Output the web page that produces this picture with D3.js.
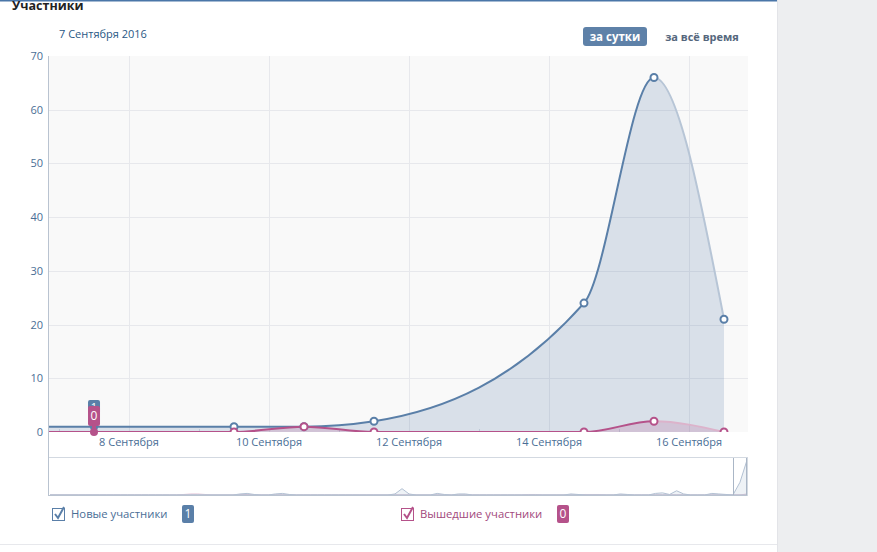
<!DOCTYPE html>
<html><head><meta charset="utf-8">
<script src="https://cdn.jsdelivr.net/npm/d3@7/dist/d3.min.js"></script>
<style>
html,body{margin:0;padding:0;background:#fff;}
svg{display:block;font-family:"Open Sans",Roboto,sans-serif;}
</style></head><body>
<svg id="c" width="877" height="552"></svg>
<script>
// ---- data ----
const pointDates = ["2016-09-06T12:00","2016-09-07T12:00","2016-09-09T12:00","2016-09-10T12:00","2016-09-11T12:00","2016-09-14T12:00","2016-09-15T12:00","2016-09-16T12:00"];
const newMembers = [1, 1, 1, 1, 2, 24, 66, 21];
const leftMembers = [0, 0, 0, 1, 0, 0, 2, 0];
const yTicks = [0, 10, 20, 30, 40, 50, 60, 70];
const xTickDays = [8, 10, 12, 14, 16];
const xMinorDays = [7, 9, 11, 13, 15];
const monthName = "Сентября";
const seriesNames = ["Новые участники", "Вышедшие участники"];
const hoverValues = [1, 0];
// navigator (long history), small values
const navNew = [0,0,0,0,0,0,0,0,0,0, 0,0,0,0,0,0,0,0,0,0, 0,0,0,0,0,0,0,2,3,1, 0,0,2,3,1,0,0,0,0,0, 0,0,0,0,0,0,0,0,0,2, 12,2,0,0,0,3,1,0,2,2, 0,0,0,0,0,0,0,0,0,0, 0,0,0,0,2,1,0,0,0,0, 0,2,1,0,0,0,3,4,1,8, 2,0,0,0,3,2,1,0,24,66];
const navLeft = [0,0,0,0,0,0,0,0,0,0, 0,0,0,0,0,0,0,0,0,1, 2,2,1,0,0,0,0,1,1,0, 0,0,0,0,0,0,0,0,0,0, 0,0,0,0,0,0,0,0,0,0, 0,0,0,0,0,0,0,0,0,0, 0,0,0,0,0,0,0,0,1,1, 0,0,0,0,0,0,1,1,1,0, 0,0,0,0,0,0,0,0,0,0, 0,0,0,0,0,0,0,0,0,2];

const parse = d3.timeParse("%Y-%m-%dT%H:%M");
const dates = pointDates.map(parse);

const svg = d3.select("#c");
const L = 49, R = 748, T = 56, B = 432;
const NAVT = 457, NAVB = 496;
const blue = "#5a7fa8", pink = "#b5528a";
const textBlue = "#4a6e96";
const FS = 11;

// frame
svg.append("rect").attr("x",777).attr("y",0).attr("width",100).attr("height",552).attr("fill","#edeef0");
svg.append("line").attr("x1",777.5).attr("x2",777.5).attr("y1",0).attr("y2",552).attr("stroke","#e3e4e8");
svg.append("rect").attr("x",0).attr("y",0).attr("width",777).attr("height",1.5).attr("fill","#4a76a8");
svg.append("line").attr("x1",0).attr("x2",777).attr("y1",544.5).attr("y2",544.5).attr("stroke","#e7e8ec");

svg.append("text").attr("x",12).attr("y",10).attr("font-size",12.5).attr("font-weight",700).attr("fill","#222").text("Участники");
svg.append("text").attr("x",59).attr("y",38).attr("font-size",FS).attr("fill","#2a5885").text("7 " + monthName + " 2016");

// buttons
svg.append("rect").attr("x",583).attr("y",27).attr("width",64).attr("height",19).attr("rx",3).attr("fill","#5e81a8");
svg.append("text").attr("x",615).attr("y",40.5).attr("text-anchor","middle").attr("font-size",11.5).attr("font-weight",700).attr("fill","#fff").text("за сутки");
svg.append("text").attr("x",702).attr("y",40.5).attr("text-anchor","middle").attr("font-size",11).attr("font-weight",700).attr("fill","#55677d").text("за всё время");

// scales
const x = d3.scaleTime().domain([parse("2016-09-06T20:34"), parse("2016-09-16T20:14")]).range([L, R]);
const y = d3.scaleLinear().domain([0, 70]).range([B, T]);
const dayDate = d => new Date(2016, 8, d);

// plot bg
svg.append("rect").attr("x",L).attr("y",T).attr("width",R-L).attr("height",B-T).attr("fill","#f9f9f9");
// grid
svg.append("g").selectAll("line").data(yTicks.filter(v=>v>0 && v<70)).join("line")
  .attr("x1",L).attr("x2",R).attr("y1",d=>Math.round(y(d))+0.5).attr("y2",d=>Math.round(y(d))+0.5).attr("stroke","#e7e8ec");
svg.append("g").selectAll("line").data(xTickDays).join("line")
  .attr("x1",d=>Math.round(x(dayDate(d)))+0.5).attr("x2",d=>Math.round(x(dayDate(d)))+0.5).attr("y1",T).attr("y2",B).attr("stroke","#e7e8ec");
svg.append("g").selectAll("line").data(xMinorDays).join("line")
  .attr("x1",d=>Math.round(x(dayDate(d)))+0.5).attr("x2",d=>Math.round(x(dayDate(d)))+0.5).attr("y1",B-3).attr("y2",B).attr("stroke","#d5dbe3");

// y labels
svg.append("g").selectAll("text").data(yTicks).join("text")
  .attr("x",43).attr("y",d=>y(d)+4).attr("text-anchor","end").attr("font-size",FS).attr("fill",textBlue).text(d=>d);
// x labels
svg.append("g").selectAll("text").data(xTickDays).join("text")
  .attr("x",d=>x(dayDate(d))).attr("y",446).attr("text-anchor","middle").attr("font-size",FS).attr("fill",textBlue).text(d=>d+" "+monthName);

// clips
const defs = svg.append("defs");
defs.append("clipPath").attr("id","plot").append("rect").attr("x",L).attr("y",T-10).attr("width",R-L).attr("height",B-T+10);
const splitX = x(dates[dates.length-2]);
defs.append("clipPath").attr("id","dark").append("rect").attr("x",L).attr("y",0).attr("width",splitX-L).attr("height",B+5);
defs.append("clipPath").attr("id","light").append("rect").attr("x",splitX).attr("y",0).attr("width",R-splitX).attr("height",B+5);

const curve = d3.curveMonotoneX;
const area = vals => d3.area().curve(curve).x((d,i)=>x(dates[i])).y0(y(0)).y1((d,i)=>y(vals[i]))(vals);
const line = vals => d3.line().curve(curve).x((d,i)=>x(dates[i])).y((d,i)=>y(vals[i]))(vals);

const g = svg.append("g").attr("clip-path","url(#plot)");
g.append("path").attr("d",area(newMembers)).attr("fill",blue).attr("fill-opacity",0.2);
g.append("path").attr("d",area(leftMembers)).attr("fill",pink).attr("fill-opacity",0.2);
[[newMembers, blue, "#b7c5d6"],[leftMembers, pink, "#dcb3cb"]].forEach(([vals,c,lc])=>{
  g.append("g").attr("clip-path","url(#dark)").append("path").attr("d",line(vals)).attr("fill","none").attr("stroke",c).attr("stroke-width",2);
  g.append("g").attr("clip-path","url(#light)").append("path").attr("d",line(vals)).attr("fill","none").attr("stroke",lc).attr("stroke-width",2);
});
// markers (skip first out-of-view and the hovered one)
[[newMembers, blue],[leftMembers, pink]].forEach(([vals,c])=>{
  g.append("g").selectAll("circle").data(vals.map((v,i)=>[v,i]).filter(d=>d[1]>1)).join("circle")
    .attr("cx",d=>x(dates[d[1]])).attr("cy",d=>y(d[0])).attr("r",3.5).attr("fill","#fff").attr("stroke",c).attr("stroke-width",2);
});
// hovered point
const hx = x(dates[1]);
svg.append("circle").attr("cx",hx).attr("cy",y(newMembers[1])).attr("r",4).attr("fill",blue);
svg.append("circle").attr("cx",hx).attr("cy",y(leftMembers[1])).attr("r",4).attr("fill",pink);
svg.append("rect").attr("x",hx-6).attr("y",400).attr("width",12).attr("height",14).attr("rx",2).attr("fill",blue);
svg.append("text").attr("x",hx).attr("y",411).attr("text-anchor","middle").attr("font-size",FS).attr("fill","#fff").text(hoverValues[0]);
svg.append("rect").attr("x",hx-6).attr("y",406).attr("width",12).attr("height",20).attr("rx",2).attr("fill",pink);
svg.append("rect").attr("x",hx-2).attr("y",424).attr("width",4).attr("height",8).attr("fill",pink);
svg.append("text").attr("x",hx).attr("y",419.5).attr("text-anchor","middle").attr("font-size",FS+1).attr("fill","#fff").text(hoverValues[1]);

// navigator
const nxs = d3.scaleLinear().domain([0, navNew.length-1]).range([L+1, R-1]);
const nys = d3.scaleLinear().domain([0, 70]).range([NAVB-1, NAVT+1]);
const narea = vals => d3.area().x((d,i)=>nxs(i)).y0(nys(0)).y1(d=>nys(d))(vals);
svg.append("path").attr("d",narea(navLeft)).attr("fill",pink).attr("fill-opacity",0.08).attr("stroke","#e6c6d8").attr("stroke-width",1);
svg.append("path").attr("d",narea(navNew)).attr("fill",blue).attr("fill-opacity",0.1).attr("stroke","#b3c1d3").attr("stroke-width",1);
svg.append("rect").attr("x",733.5).attr("y",NAVT+0.5).attr("width",13).attr("height",NAVB-NAVT-1).attr("fill","none").attr("stroke","#aab6c6");
svg.append("line").attr("x1",L).attr("x2",R).attr("y1",NAVT+0.5).attr("y2",NAVT+0.5).attr("stroke","#d3d9e1");
svg.append("line").attr("x1",L).attr("x2",R).attr("y1",NAVB-0.5).attr("y2",NAVB-0.5).attr("stroke","#b9c3d0");
svg.append("line").attr("x1",R-0.5).attr("x2",R-0.5).attr("y1",NAVT).attr("y2",NAVB).attr("stroke","#d3d9e1");
// left axis line
svg.append("line").attr("x1",L-0.5).attr("x2",L-0.5).attr("y1",T).attr("y2",NAVB).attr("stroke","#b9c3d0");

// legend
const legend = [[52, seriesNames[0], blue, "#4a6e96", 182, hoverValues[0]],[401, seriesNames[1], pink, "#a2497c", 557, hoverValues[1]]];
legend.forEach(([lx,name,c,tc,bx,val])=>{
  svg.append("rect").attr("x",lx+0.5).attr("y",508.5).attr("width",12).attr("height",12).attr("fill","#fff").attr("stroke",c).attr("stroke-width",1);
  svg.append("path").attr("d",`M${lx+3},${514} L${lx+6},${518} L${lx+12},${507}`).attr("fill","none").attr("stroke",c).attr("stroke-width",2);
  svg.append("text").attr("x",lx+19).attr("y",518).attr("font-size",FS+0.3).attr("fill",tc).text(name);
  svg.append("rect").attr("x",bx).attr("y",505).attr("width",12).attr("height",18).attr("rx",2).attr("fill",c);
  svg.append("text").attr("x",bx+6).attr("y",518).attr("text-anchor","middle").attr("font-size",FS+1).attr("fill","#fff").text(val);
});
</script></body></html>
